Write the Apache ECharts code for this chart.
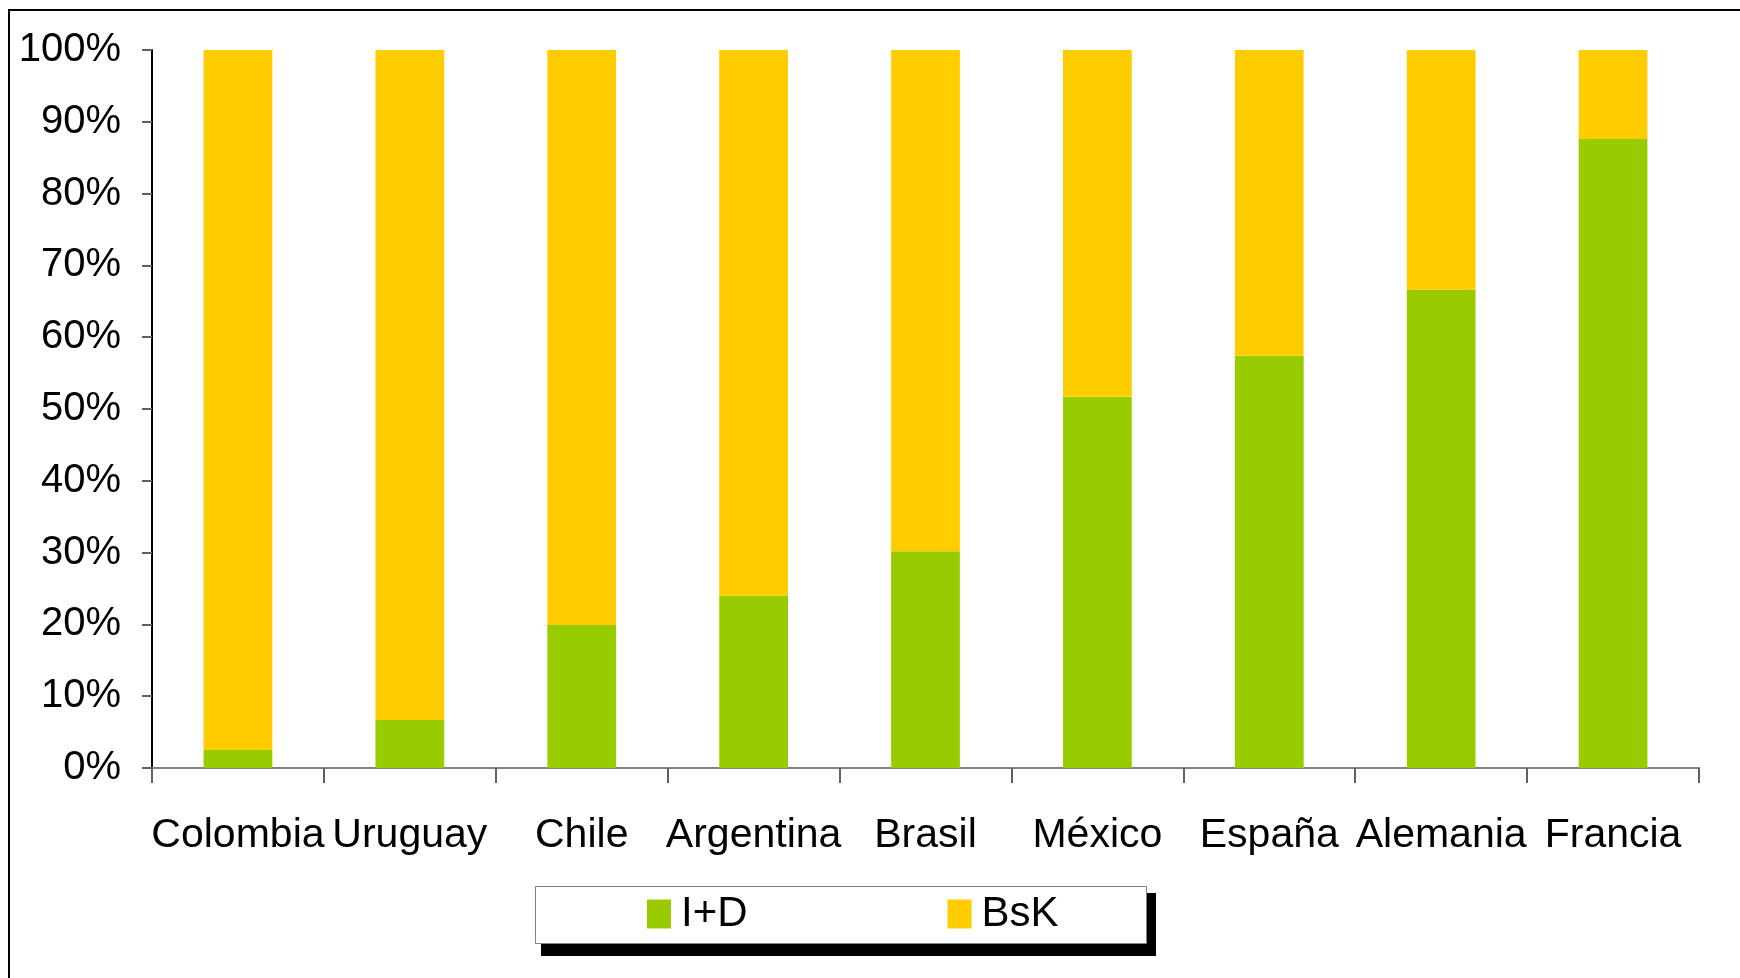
<!DOCTYPE html>
<html>
<head>
<meta charset="utf-8">
<script src="https://cdn.jsdelivr.net/npm/echarts@6/dist/echarts.min.js"></script>
<style>
html,body{margin:0;padding:0;background:#fff;}
#chart{width:1740px;height:978px;}
</style>
</head>
<body>
<div id="chart"></div>
<script>
const categories = ['Colombia', 'Uruguay', 'Chile', 'Argentina', 'Brasil', 'México', 'España', 'Alemania', 'Francia'];
const seriesNames = ['I+D', 'BsK'];
const idValues  = [2.5, 6.7, 19.9, 24.0, 30.2, 51.7, 57.4, 66.6, 87.6];
const bskValues = [97.5, 93.3, 80.1, 76.0, 69.8, 48.3, 42.6, 33.4, 12.4];
const yTicks = [0, 10, 20, 30, 40, 50, 60, 70, 80, 90, 100];

const FONT = "'Liberation Sans', Arial, sans-serif";
const chart = echarts.init(document.getElementById('chart'), null, {renderer: 'canvas'});
chart.setOption({
  backgroundColor: '#fff',
  animation: false,
  textStyle: {fontFamily: FONT},
  graphic: [
    {type: 'rect', z: 0, shape: {x: 9, y: 10, width: 1760, height: 1000}, style: {fill: 'none', stroke: '#000', lineWidth: 2}},
    {type: 'rect', z: 1, shape: {x: 541, y: 893, width: 615, height: 63}, style: {fill: '#000'}},
    {type: 'rect', z: 2, shape: {x: 535.5, y: 886.5, width: 611, height: 57}, style: {fill: '#fff', stroke: '#808080', lineWidth: 1}}
  ],
  grid: {left: 152, right: 41, top: 50, bottom: 210, containLabel: false},
  legend: {
    data: seriesNames,
    left: 647,
    top: 893,
    z: 10,
    padding: 0,
    itemWidth: 24,
    itemHeight: 29,
    itemGap: 200,
    icon: 'rect',
    textStyle: {fontFamily: FONT, fontSize: 42, color: '#000', padding: [0, 0, 10, 5]}
  },
  xAxis: {
    type: 'category',
    data: categories,
    boundaryGap: true,
    axisLine: {lineStyle: {color: '#808080', width: 2}},
    axisTick: {show: true, length: 15, alignWithLabel: false, lineStyle: {color: '#606060', width: 2}},
    axisLabel: {color: '#000', fontFamily: FONT, fontSize: 41, margin: 47, interval: 0}
  },
  yAxis: {
    type: 'value',
    min: 0,
    max: 100,
    interval: 10,
    axisLine: {show: true, lineStyle: {color: '#000', width: 2}},
    axisTick: {show: true, length: 10, lineStyle: {color: '#606060', width: 2}},
    splitLine: {show: false},
    axisLabel: {color: '#000', fontFamily: FONT, fontSize: 40, margin: 31,
      formatter: function (v) { return yTicks.indexOf(v) >= 0 ? v + '%' : ''; }}
  },
  series: [
    {name: seriesNames[0], type: 'bar', stack: 'total', data: idValues, barWidth: '40%', itemStyle: {color: '#99CC00'}},
    {name: seriesNames[1], type: 'bar', stack: 'total', data: bskValues, barWidth: '40%', itemStyle: {color: '#FFCC00'}}
  ]
});
</script>
</body>
</html>
